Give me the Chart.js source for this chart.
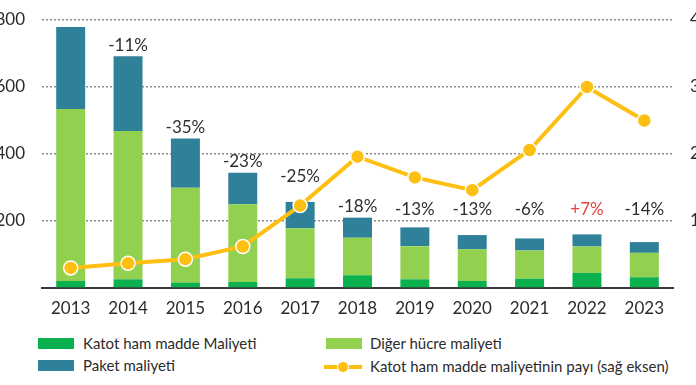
<!DOCTYPE html>
<html>
<head>
<meta charset="utf-8">
<script src="https://cdn.jsdelivr.net/npm/chart.js@4.4.1/dist/chart.umd.min.js"></script>
<style>
  html, body { margin: 0; padding: 0; background: #fff; width: 696px; height: 385px; overflow: hidden; position: relative; font-family: Lato, "Open Sans", sans-serif; }
  #wrap { position: absolute; left: -18px; top: 0; width: 751px; height: 330px; }
  .lg { position: absolute; font-size: 15px; color: #2b2b2b; line-height: 18px; white-space: nowrap; }
  .sw { position: absolute; width: 36px; height: 11px; }
  .ln { position: absolute; width: 38px; height: 4px; background: #fdbf12; }
  .dot { position: absolute; width: 10px; height: 10px; border-radius: 50%; background: #fdbf12; border: 1px solid #fff; left: 13px; top: -4px; }
</style>
</head>
<body>
<div id="wrap"><canvas id="c" width="751" height="330"></canvas></div>

<div class="sw" style="left:38px; top:338px; background:#0bb04f;"></div>
<div class="lg" style="left:83px; top:334px;">Katot ham madde Maliyeti</div>
<div class="sw" style="left:38px; top:360px; background:#2f8199;"></div>
<div class="lg" style="left:83px; top:356px;">Paket maliyeti</div>
<div class="sw" style="left:326px; top:338px; background:#92d050;"></div>
<div class="lg" style="left:370px; top:334px;">Diğer hücre maliyeti</div>
<div class="ln" style="left:324px; top:365px;"><div class="dot"></div></div>
<div class="lg" style="left:370px; top:357px;">Katot ham madde maliyetinin payı (sağ eksen)</div>

<script>
const years = ['2013','2014','2015','2016','2017','2018','2019','2020','2021','2022','2023'];
const katotCost = [21, 26, 16, 18, 29, 38, 26, 21, 28, 45, 32];
const otherCellCost = [513, 443, 283, 232, 149, 112, 99, 95, 84, 79, 73];
const packCost = [245, 223, 147, 94, 79, 60, 56, 42, 36, 36, 32];
const katotShare = [3.0, 3.7, 4.3, 6.2, 12.3, 19.6, 16.5, 14.6, 20.6, 30.0, 25.0];
const changeLabels = ['', '-11%', '-35%', '-23%', '-25%', '-18%', '-13%', '-13%', '-6%', '+7%', '-14%'];
const leftTicks = [0, 200, 400, 600, 800];
const rightTicks = [0, 10, 20, 30, 40];

const FONT = 'Lato, "Open Sans", sans-serif';

const changePlugin = {
  id: 'changeLabels',
  afterDatasetsDraw(chart) {
    const ctx = chart.ctx;
    const y = chart.scales.y, y1 = chart.scales.y1, x = chart.scales.x;
    ctx.save();
    ctx.font = '17px ' + FONT;
    ctx.textAlign = 'center';
    ctx.textBaseline = 'middle';
    changeLabels.forEach((lab, i) => {
      if (!lab) return;
      const total = katotCost[i] + otherCellCost[i] + packCost[i];
      const top = y.getPixelForValue(total);
      const g = y.getPixelForValue(200);
      const p = y1.getPixelForValue(katotShare[i]);
      let yy = Math.min(top, g) - 11;
      if (Math.abs(p - yy) < 18) yy = p - 29;
      ctx.fillStyle = lab.startsWith('+') ? '#e8413c' : '#2e2e2e';
      ctx.fillText(lab, x.getPixelForValue(i), yy);
    });
    ctx.restore();
  }
};

new Chart(document.getElementById('c'), {
  data: {
    labels: years,
    datasets: [
      { type: 'line', label: 'Katot ham madde maliyetinin payı (sağ eksen)', data: katotShare, yAxisID: 'y1',
        borderColor: '#fdbf12', borderWidth: 4, pointRadius: 7, pointHoverRadius: 7,
        pointBackgroundColor: '#fdbf12', pointBorderColor: '#ffffff', pointBorderWidth: 1.5, order: 0, tension: 0 },
      { type: 'bar', label: 'Katot ham madde Maliyeti', data: katotCost, backgroundColor: '#0bb04f', stack: 's', yAxisID: 'y', order: 1 },
      { type: 'bar', label: 'Diğer hücre maliyeti', data: otherCellCost, backgroundColor: '#92d050', stack: 's', yAxisID: 'y', order: 1 },
      { type: 'bar', label: 'Paket maliyeti', data: packCost, backgroundColor: '#2f8199', stack: 's', yAxisID: 'y', order: 1 }
    ]
  },
  options: {
    responsive: false,
    animation: false,
    devicePixelRatio: 1,
    layout: { padding: { top: 20, left: 0, right: 0, bottom: 0 } },
    datasets: { bar: { barPercentage: 1, categoryPercentage: 0.505 } },
    plugins: { legend: { display: false }, tooltip: { enabled: false } },
    scales: {
      x: {
        stacked: true,
        grid: { display: false, drawTicks: false },
        border: { display: true, color: '#3a3a3a', width: 2 },
        ticks: { color: '#2b2b2b', font: { family: FONT, size: 17 }, padding: 10, maxRotation: 0 },
        afterFit: s => { s.height = 42; s.paddingLeft = 0; s.paddingRight = 0; }
      },
      y: {
        stacked: true,
        position: 'left',
        min: 0, max: 800,
        afterBuildTicks: s => { s.ticks = leftTicks.map(v => ({ value: v })); },
        grid: { display: true, drawOnChartArea: true, color: '#8c8c8c', lineWidth: 1.5, drawTicks: false },
        border: { display: true, width: 0, dash: [2, 2] },
        ticks: { color: '#2b2b2b', font: { family: FONT, size: 17 }, padding: 17,
          callback: v => v === 0 ? '' : String(v) },
        afterFit: s => { s.width = 60; s.paddingTop = 0; s.paddingBottom = 0; }
      },
      y1: {
        position: 'right',
        min: 0, max: 40,
        afterBuildTicks: s => { s.ticks = rightTicks.map(v => ({ value: v })); },
        grid: { drawOnChartArea: false, drawTicks: false },
        border: { display: false },
        ticks: { color: '#2b2b2b', font: { family: FONT, size: 17 }, padding: 17,
          callback: v => v === 0 ? '' : v + '%' },
        afterFit: s => { s.width = 60; s.paddingTop = 0; s.paddingBottom = 0; }
      }
    }
  },
  plugins: [changePlugin]
});
</script>
</body>
</html>
